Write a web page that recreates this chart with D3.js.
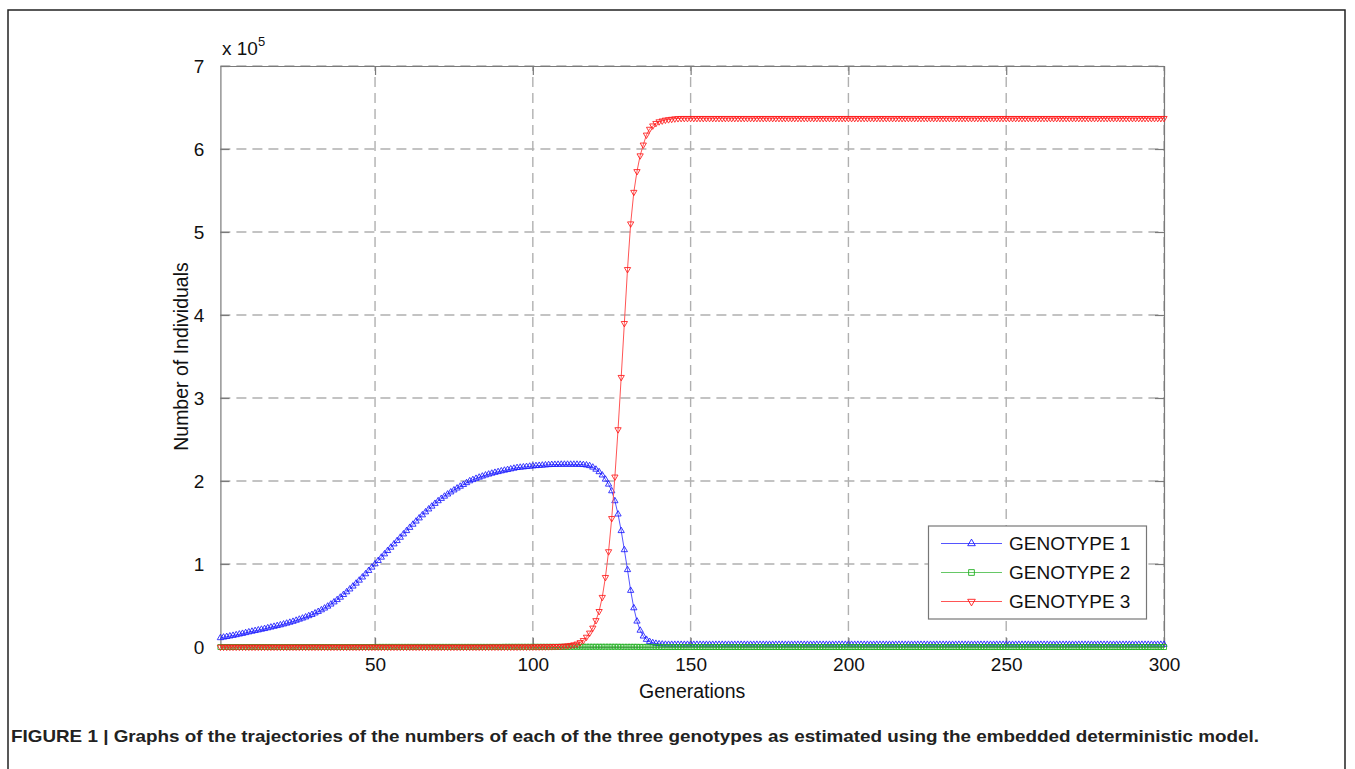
<!DOCTYPE html>
<html>
<head>
<meta charset="utf-8">
<script src="https://cdn.jsdelivr.net/npm/d3@7"></script>
<style>
	body { margin: 0; background: #fff; }
	svg { display: block; font-family: "Liberation Sans", Arial, sans-serif; }
</style>
</head>
<body>
<svg id="chart" width="1355" height="769"></svg>
<script>
// values in units of 1e5 individuals, one per generation (1..300)
var genotype1 = [
	0.110,0.117,0.124,0.131,0.138,0.146,0.154,0.162,0.171,0.180,
	0.188,0.196,0.204,0.212,0.220,0.229,0.238,0.247,0.256,0.265,
	0.275,0.285,0.296,0.307,0.320,0.333,0.346,0.360,0.375,0.390,
	0.408,0.426,0.446,0.467,0.490,0.515,0.541,0.569,0.598,0.630,
	0.663,0.697,0.732,0.767,0.803,0.841,0.880,0.920,0.960,1.000,
	1.040,1.080,1.120,1.160,1.200,1.240,1.280,1.320,1.360,1.400,
	1.439,1.477,1.515,1.553,1.590,1.626,1.661,1.695,1.728,1.760,
	1.788,1.815,1.841,1.866,1.890,1.913,1.935,1.956,1.978,2.000,
	2.015,2.030,2.044,2.057,2.070,2.081,2.092,2.102,2.111,2.120,
	2.128,2.136,2.144,2.152,2.160,2.164,2.168,2.172,2.176,2.180,
	2.183,2.186,2.189,2.192,2.195,2.197,2.198,2.199,2.200,2.200,
	2.200,2.200,2.200,2.200,2.199,2.196,2.191,2.183,2.165,2.140,
	2.110,2.070,2.020,1.960,1.880,1.760,1.600,1.400,1.170,0.930,
	0.680,0.470,0.310,0.200,0.130,0.090,0.065,0.050,0.042,0.036,
	0.033,0.031,0.030,0.030,0.030,0.030,0.030,0.030,0.030,0.030,
	0.030,0.030,0.030,0.030,0.030,0.030,0.030,0.030,0.030,0.030,
	0.030,0.030,0.030,0.030,0.030,0.030,0.030,0.030,0.030,0.030,
	0.030,0.030,0.030,0.030,0.030,0.030,0.030,0.030,0.030,0.030,
	0.030,0.030,0.030,0.030,0.030,0.030,0.030,0.030,0.030,0.030,
	0.030,0.030,0.030,0.030,0.030,0.030,0.030,0.030,0.030,0.030,
	0.030,0.030,0.030,0.030,0.030,0.030,0.030,0.030,0.030,0.030,
	0.030,0.030,0.030,0.030,0.030,0.030,0.030,0.030,0.030,0.030,
	0.030,0.030,0.030,0.030,0.030,0.030,0.030,0.030,0.030,0.030,
	0.030,0.030,0.030,0.030,0.030,0.030,0.030,0.030,0.030,0.030,
	0.030,0.030,0.030,0.030,0.030,0.030,0.030,0.030,0.030,0.030,
	0.030,0.030,0.030,0.030,0.030,0.030,0.030,0.030,0.030,0.030,
	0.030,0.030,0.030,0.030,0.030,0.030,0.030,0.030,0.030,0.030,
	0.030,0.030,0.030,0.030,0.030,0.030,0.030,0.030,0.030,0.030,
	0.030,0.030,0.030,0.030,0.030,0.030,0.030,0.030,0.030,0.030,
	0.030,0.030,0.030,0.030,0.030,0.030,0.030,0.030,0.030,0.030
];

var genotype2 = [
	0.000,0.000,0.000,0.000,0.000,0.000,0.000,0.000,0.000,0.000,
	0.000,0.000,0.000,0.000,0.000,0.000,0.000,0.000,0.000,0.000,
	0.000,0.000,0.000,0.000,0.000,0.000,0.000,0.000,0.000,0.000,
	0.000,0.000,0.000,0.000,0.000,0.000,0.000,0.000,0.000,0.000,
	0.000,0.000,0.000,0.000,0.000,0.000,0.000,0.000,0.000,0.000,
	0.001,0.001,0.001,0.001,0.001,0.001,0.001,0.001,0.001,0.001,
	0.001,0.001,0.001,0.001,0.001,0.001,0.001,0.001,0.001,0.001,
	0.001,0.001,0.001,0.001,0.001,0.001,0.001,0.001,0.001,0.001,
	0.001,0.001,0.001,0.001,0.001,0.001,0.001,0.001,0.001,0.001,
	0.002,0.002,0.002,0.002,0.002,0.002,0.002,0.002,0.002,0.002,
	0.002,0.002,0.002,0.002,0.002,0.002,0.002,0.002,0.002,0.002,
	0.002,0.003,0.003,0.003,0.003,0.003,0.003,0.003,0.003,0.003,
	0.003,0.003,0.003,0.003,0.003,0.003,0.003,0.002,0.002,0.002,
	0.002,0.002,0.002,0.001,0.001,0.001,0.001,0.001,0.001,0.001,
	0.000,0.000,0.000,0.000,0.000,0.000,0.000,0.000,0.000,0.000,
	0.000,0.000,0.000,0.000,0.000,0.000,0.000,0.000,0.000,0.000,
	0.000,0.000,0.000,0.000,0.000,0.000,0.000,0.000,0.000,0.000,
	0.000,0.000,0.000,0.000,0.000,0.000,0.000,0.000,0.000,0.000,
	0.000,0.000,0.000,0.000,0.000,0.000,0.000,0.000,0.000,0.000,
	0.000,0.000,0.000,0.000,0.000,0.000,0.000,0.000,0.000,0.000,
	0.000,0.000,0.000,0.000,0.000,0.000,0.000,0.000,0.000,0.000,
	0.000,0.000,0.000,0.000,0.000,0.000,0.000,0.000,0.000,0.000,
	0.000,0.000,0.000,0.000,0.000,0.000,0.000,0.000,0.000,0.000,
	0.000,0.000,0.000,0.000,0.000,0.000,0.000,0.000,0.000,0.000,
	0.000,0.000,0.000,0.000,0.000,0.000,0.000,0.000,0.000,0.000,
	0.000,0.000,0.000,0.000,0.000,0.000,0.000,0.000,0.000,0.000,
	0.000,0.000,0.000,0.000,0.000,0.000,0.000,0.000,0.000,0.000,
	0.000,0.000,0.000,0.000,0.000,0.000,0.000,0.000,0.000,0.000,
	0.000,0.000,0.000,0.000,0.000,0.000,0.000,0.000,0.000,0.000,
	0.000,0.000,0.000,0.000,0.000,0.000,0.000,0.000,0.000,0.000
];

var genotype3 = [
	0.000,0.000,0.000,0.000,0.000,0.000,0.000,0.000,0.000,0.000,
	0.000,0.000,0.000,0.000,0.000,0.000,0.000,0.000,0.000,0.000,
	0.000,0.000,0.000,0.000,0.000,0.000,0.000,0.000,0.000,0.000,
	0.000,0.000,0.000,0.000,0.000,0.000,0.000,0.000,0.000,0.000,
	0.000,0.000,0.000,0.000,0.000,0.000,0.000,0.000,0.000,0.000,
	0.000,0.000,0.000,0.000,0.000,0.000,0.000,0.000,0.000,0.000,
	0.000,0.000,0.000,0.000,0.000,0.000,0.000,0.000,0.000,0.000,
	0.000,0.000,0.000,0.000,0.000,0.000,0.000,0.000,0.000,0.000,
	0.000,0.000,0.000,0.000,0.000,0.001,0.001,0.001,0.001,0.001,
	0.001,0.001,0.001,0.001,0.001,0.002,0.002,0.002,0.002,0.002,
	0.003,0.003,0.004,0.004,0.005,0.006,0.007,0.008,0.010,0.012,
	0.016,0.021,0.028,0.038,0.055,0.080,0.120,0.170,0.230,0.320,
	0.430,0.600,0.840,1.150,1.550,2.050,2.620,3.250,3.900,4.550,
	5.100,5.480,5.730,5.920,6.050,6.170,6.240,6.280,6.310,6.330,
	6.340,6.350,6.355,6.360,6.365,6.368,6.370,6.370,6.370,6.370,
	6.370,6.370,6.370,6.370,6.370,6.370,6.370,6.370,6.370,6.370,
	6.370,6.370,6.370,6.370,6.370,6.370,6.370,6.370,6.370,6.370,
	6.370,6.370,6.370,6.370,6.370,6.370,6.370,6.370,6.370,6.370,
	6.370,6.370,6.370,6.370,6.370,6.370,6.370,6.370,6.370,6.370,
	6.370,6.370,6.370,6.370,6.370,6.370,6.370,6.370,6.370,6.370,
	6.370,6.370,6.370,6.370,6.370,6.370,6.370,6.370,6.370,6.370,
	6.370,6.370,6.370,6.370,6.370,6.370,6.370,6.370,6.370,6.370,
	6.370,6.370,6.370,6.370,6.370,6.370,6.370,6.370,6.370,6.370,
	6.370,6.370,6.370,6.370,6.370,6.370,6.370,6.370,6.370,6.370,
	6.370,6.370,6.370,6.370,6.370,6.370,6.370,6.370,6.370,6.370,
	6.370,6.370,6.370,6.370,6.370,6.370,6.370,6.370,6.370,6.370,
	6.370,6.370,6.370,6.370,6.370,6.370,6.370,6.370,6.370,6.370,
	6.370,6.370,6.370,6.370,6.370,6.370,6.370,6.370,6.370,6.370,
	6.370,6.370,6.370,6.370,6.370,6.370,6.370,6.370,6.370,6.370,
	6.370,6.370,6.370,6.370,6.370,6.370,6.370,6.370,6.370,6.370
];

var xTicks = [50, 100, 150, 200, 250, 300];
var yTicks = [0, 1, 2, 3, 4, 5, 6, 7];
var seriesNames = ["GENOTYPE 1", "GENOTYPE 2", "GENOTYPE 3"];
var caption = "FIGURE 1 | Graphs of the trajectories of the numbers of each of the three genotypes as estimated using the embedded deterministic model.";

var svg = d3.select("#chart");

// figure frame
svg.append("path")
	.attr("d", "M8,769V10H1345V769")
	.attr("fill", "none")
	.attr("stroke", "#222")
	.attr("stroke-width", 1.5);

var plot = {left: 220.4, right: 1164, top: 66, bottom: 647};

var x = d3.scaleLinear().domain([1, 300]).range([plot.left, plot.right]);
var y = d3.scaleLinear().domain([0, 7]).range([plot.bottom, plot.top]);

var series = [
	{name: seriesNames[0], values: genotype1, color: "#1a1aff", line: "#5555ff", symbol: d3.symbolTriangle, size: 17, rotate: 0},
	{name: seriesNames[1], values: genotype2, color: "#22b022", line: "#66c866", symbol: d3.symbolSquare, size: 25, rotate: 0},
	{name: seriesNames[2], values: genotype3, color: "#ff1a1a", line: "#ff5555", symbol: d3.symbolTriangle, size: 17, rotate: 180}
];

// grid
var grid = svg.append("g").attr("class", "grid")
	.attr("stroke", "#b0b0b0")
	.attr("stroke-width", 1.4)
	.attr("stroke-dasharray", "10,6");

grid.selectAll("line.gx")
	.data(xTicks)
	.enter().append("line")
	.attr("x1", function(d) { return x(d); })
	.attr("x2", function(d) { return x(d); })
	.attr("y1", plot.bottom)
	.attr("y2", plot.top);

grid.selectAll("line.gy")
	.data(yTicks.slice(1))
	.enter().append("line")
	.attr("x1", plot.left)
	.attr("x2", plot.right)
	.attr("y1", function(d) { return y(d); })
	.attr("y2", function(d) { return y(d); });

// axes box with inward ticks
var axisColor = "#7a7a7a";
var bottomAxis = svg.append("g")
	.attr("transform", "translate(0," + plot.bottom + ")")
	.call(d3.axisBottom(x).tickValues(xTicks).tickFormat(d3.format("d")).tickSize(-9).tickPadding(20).tickSizeOuter(0));
var topAxis = svg.append("g")
	.attr("transform", "translate(0," + plot.top + ")")
	.call(d3.axisTop(x).tickValues(xTicks).tickSize(-9).tickFormat("").tickSizeOuter(0));
var leftAxis = svg.append("g")
	.attr("transform", "translate(" + plot.left + ",0)")
	.call(d3.axisLeft(y).tickValues(yTicks).tickFormat(d3.format("d")).tickSize(-9).tickPadding(16).tickSizeOuter(0));
var rightAxis = svg.append("g")
	.attr("transform", "translate(" + plot.right + ",0)")
	.call(d3.axisRight(y).tickValues(yTicks).tickSize(-9).tickFormat("").tickSizeOuter(0));

[bottomAxis, topAxis, leftAxis, rightAxis].forEach(function(a) {
	a.select(".domain").attr("stroke", axisColor).attr("stroke-width", 1.2);
	a.selectAll(".tick line").attr("stroke", axisColor).attr("stroke-width", 1.2);
	a.selectAll(".tick text")
		.attr("fill", "#111")
		.style("font-size", "19px")
		.style("font-family", "'Liberation Sans', Arial, sans-serif");
});
bottomAxis.selectAll(".tick text").attr("dy", "0.2em");
leftAxis.selectAll(".tick text").attr("dy", "0.36em");

// exponent
var expo = svg.append("text")
	.attr("x", 222)
	.attr("y", 55)
	.attr("fill", "#111")
	.style("font-size", "19px");
expo.append("tspan").text("x 10");
expo.append("tspan").attr("dy", -9).style("font-size", "13px").text("5");

// axis labels
svg.append("text")
	.attr("x", (plot.left + plot.right) / 2)
	.attr("y", 698)
	.attr("text-anchor", "middle")
	.attr("fill", "#111")
	.style("font-size", "19.5px")
	.text("Generations");

svg.append("text")
	.attr("transform", "translate(188," + ((plot.top + plot.bottom) / 2) + ") rotate(-90)")
	.attr("text-anchor", "middle")
	.attr("fill", "#111")
	.style("font-size", "19.5px")
	.text("Number of Individuals");

// lines and markers
var line = d3.line()
	.x(function(d, i) { return x(i + 1); })
	.y(function(d) { return y(d); });

var marks = svg.append("g").attr("class", "series");

series.forEach(function(s) {
	var g = marks.append("g");
	g.append("path")
		.datum(s.values)
		.attr("d", line)
		.attr("fill", "none")
		.attr("stroke", s.line)
		.attr("stroke-width", 1);
	g.selectAll("path.mk")
		.data(s.values)
		.enter().append("path")
		.attr("class", "mk")
		.attr("d", d3.symbol().type(s.symbol).size(s.size))
		.attr("transform", function(d, i) {
			return "translate(" + x(i + 1) + "," + y(d) + ") rotate(" + s.rotate + ")";
		})
		.attr("fill", "none")
		.attr("stroke", s.color)
		.attr("stroke-opacity", 0.85)
		.attr("stroke-width", 1);
});

// legend
var legend = svg.append("g").attr("class", "legend");
legend.append("rect")
	.attr("x", 928.5)
	.attr("y", 526)
	.attr("width", 218)
	.attr("height", 93)
	.attr("fill", "#fff")
	.attr("stroke", "#777")
	.attr("stroke-width", 1.2);

var rows = legend.selectAll("g.row")
	.data(series)
	.enter().append("g")
	.attr("class", "row")
	.attr("transform", function(d, i) { return "translate(0," + (543.5 + i * 29) + ")"; });

rows.append("line")
	.attr("x1", 941).attr("x2", 1002)
	.attr("stroke", function(d) { return d.line; })
	.attr("stroke-width", 1);
rows.append("path")
	.attr("d", function(d) { return d3.symbol().type(d.symbol).size(d.size + 8)(); })
	.attr("transform", function(d) { return "translate(971.5,0) rotate(" + d.rotate + ")"; })
	.attr("fill", "none")
	.attr("stroke", function(d) { return d.color; })
	.attr("stroke-width", 0.9);
rows.append("text")
	.attr("x", 1009)
	.attr("dy", "0.36em")
	.attr("fill", "#111")
	.style("font-size", "19px")
	.text(function(d) { return d.name; });

// caption
svg.append("text")
	.attr("x", 11)
	.attr("y", 742)
	.attr("fill", "#222")
	.attr("textLength", 1248)
	.attr("lengthAdjust", "spacingAndGlyphs")
	.style("font-family", "'Liberation Sans', Arial, sans-serif")
	.style("font-weight", "bold")
	.style("font-size", "17px")
	.text(caption);
</script>
</body>
</html>
